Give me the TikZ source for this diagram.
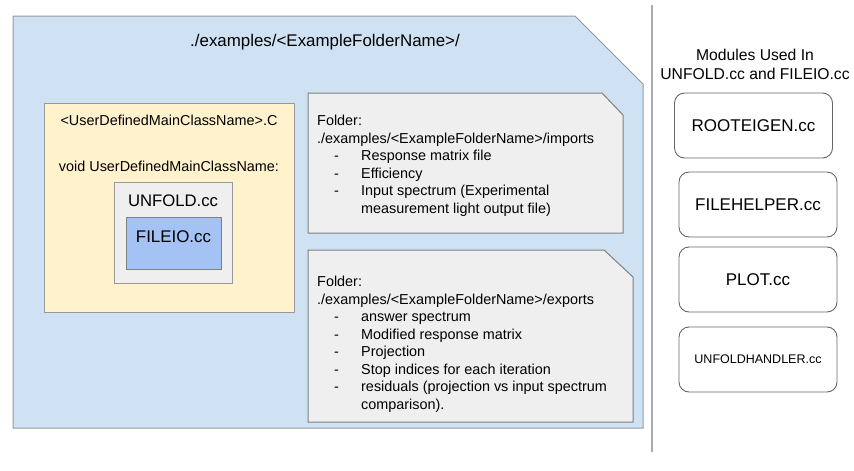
\documentclass[tikz,border=0pt]{standalone}
\usepackage{fontspec}
\setmainfont{Liberation Sans}
\usepackage{tikz}

\definecolor{panelblue}{HTML}{CFE2F3}
\definecolor{noteyellow}{HTML}{FFF2CC}
\definecolor{boxgray}{HTML}{EFEFEF}
\definecolor{fileblue}{HTML}{A4C2F4}
\definecolor{edgegray}{HTML}{999999}
\definecolor{darkedge}{HTML}{666666}

\begin{document}
\begin{tikzpicture}[x=1pt, y=-1pt,
	box/.style={draw=edgegray, line width=1pt, inner sep=0pt},
	module/.style={draw=darkedge, line width=0.9pt, fill=white, rounded corners=10pt, minimum width=158pt, minimum height=65pt, font=\fontsize{17}{20}\selectfont},
	lbl/.style={inner sep=0pt, font=\fontsize{14.4}{17.5}\selectfont},
	folderlist/.style={inner sep=0pt, anchor=north west, align=left, font=\fontsize{14.4}{17.5}\selectfont}]
	\useasboundingbox (0,0) rectangle (854,471);

	%Examples folder
	\filldraw[box, fill=panelblue] (13,16) -- (575,16) -- (643,84) -- (643,428) -- (13,428) -- cycle;
	\node[lbl, font=\fontsize{16.9}{20}\selectfont] (examples) at (325,42) {./examples/<ExampleFolderName>/};

	%Main class
	\node[box, fill=noteyellow, minimum width=250pt, minimum height=209pt] (mainclass) at (169,207.5) {};
	\node[lbl] (mainfile) at (169,120) {<UserDefinedMainClassName>.C};
	\node[lbl] (mainvoid) at (169,166) {void UserDefinedMainClassName:};
	\node[box, fill=boxgray, minimum width=118pt, minimum height=101pt] (unfold) at (173,232.5) {};
	\node[lbl, font=\fontsize{16.7}{20}\selectfont] (unfoldname) at (173,201) {UNFOLD.cc};
	\node[box, draw=gray, fill=fileblue, minimum width=95pt, minimum height=52pt] (fileio) at (173.5,243) {};
	\node[lbl, font=\fontsize{16.9}{20}\selectfont] (fileioname) at (173.5,237) {FILEIO.cc};

	%Imports and exports
	\filldraw[box, draw=gray, fill=boxgray] (308,93) -- (602,93) -- (623,115) -- (623,233) -- (308,233) -- cycle;
	\node[folderlist] (imports) at (317,115) {Folder:\\./examples/<ExampleFolderName>/imports\\
		\hspace*{17pt}\makebox[27pt][l]{-}Response matrix file\\
		\hspace*{17pt}\makebox[27pt][l]{-}Efficiency\\
		\hspace*{17pt}\makebox[27pt][l]{-}Input spectrum (Experimental\\
		\hspace*{44pt}measurement light output file)};
	\filldraw[box, draw=gray, fill=boxgray] (308,250) -- (604,250) -- (633,277) -- (633,422) -- (308,422) -- cycle;
	\node[folderlist] (exports) at (317,276) {Folder:\\./examples/<ExampleFolderName>/exports\\
		\hspace*{17pt}\makebox[27pt][l]{-}answer spectrum\\
		\hspace*{17pt}\makebox[27pt][l]{-}Modified response matrix\\
		\hspace*{17pt}\makebox[27pt][l]{-}Projection\\
		\hspace*{17pt}\makebox[27pt][l]{-}Stop indices for each iteration\\
		\hspace*{17pt}\makebox[27pt][l]{-}residuals (projection vs input spectrum\\
		\hspace*{44pt}comparison).};

	%Modules
	\draw[line width=1.5pt, color=black!33] (652,5) -- (652,452);
	\node[align=center, inner sep=0pt, font=\fontsize{15.7}{19}\selectfont] (modules) at (755,64.5) {Modules Used In\\UNFOLD.cc and FILEIO.cc};
	\node[module] (rooteigen) at (753.5,125.5) {ROOTEIGEN.cc};
	\node[module] (filehelper) at (758,204.5) {FILEHELPER.cc};
	\node[module] (plot) at (758,279.5) {PLOT.cc};
	\node[module, font=\fontsize{12.5}{15}\selectfont] (unfoldhandler) at (758,359.5) {UNFOLDHANDLER.cc};
\end{tikzpicture}
\end{document}
